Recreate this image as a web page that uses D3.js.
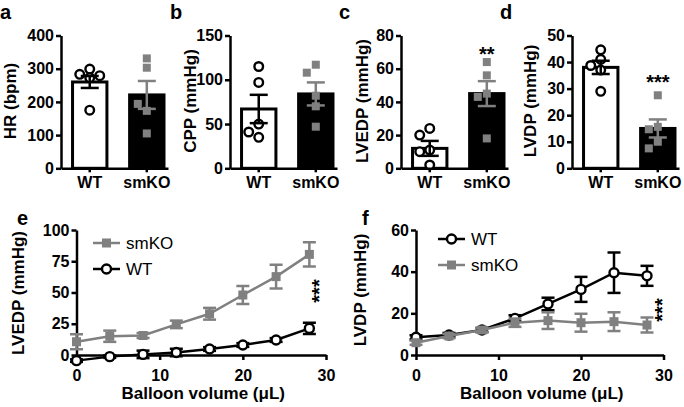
<!DOCTYPE html>
<html>
<head>
<meta charset="utf-8">
<script src="https://cdn.jsdelivr.net/npm/d3@7"></script>
<style>
  body { margin: 0; background: #fff; }
  svg { display: block; font-family: "Liberation Sans", Arial, sans-serif; }
</style>
</head>
<body>
<div id="chart"></div>
<script>
// ---- data ----
const groups = ["WT", "smKO"];

// a: heart rate
const hrWT = [299, 283, 279, 273, 175];
const hrKO = [331, 303, 173, 194, 105];
const hrMean = [260, 221], hrSem = [18, 42];

// b: coronary perfusion pressure
const cppWT = [115, 97, 50, 41, 35];
const cppKO = [117, 108, 82, 70, 47];
const cppMean = [67, 84], cppSem = [16, 13];

// c: LVEDP
const lvedpWT = [24, 20, 11, 10, 2];
const lvedpKO = [64, 56, 45, 43, 18];
const lvedpMean = [12, 45], lvedpSem = [4.5, 7.5];

// d: LVDP
const lvdpWT = [44.6, 41, 38.7, 37, 29];
const lvdpKO = [27.5, 15.6, 14.7, 10, 7.5];
const lvdpMean = [38, 15], lvdpSem = [2.5, 3.4];

// e / f: balloon volume curves
const volume = [0, 4, 8, 12, 16, 20, 24, 28];
const eKOMean = [10.6, 15, 15.6, 24.5, 33, 48, 62.7, 80.5];
const eKOSem  = [6, 4.5, 2, 3, 4.7, 7.2, 9.5, 9.7];
const eWTMean = [-4.5, -1.3, 0.5, 2, 4.8, 8, 12, 21.3];
const eWTSem  = [1, 1, 3, 3, 1.5, 1.5, 1.5, 4.5];
const fWTMean = [8.5, 9.6, 12, 17.6, 24.5, 31.5, 39.5, 38];
const fWTSem  = [1, 1, 1, 1.5, 3, 6, 9.7, 4.8];
const fKOMean = [5.9, 9.1, 12, 15.5, 16.5, 15.5, 16, 14.4];
const fKOSem  = [1, 1, 1, 2, 4, 4.3, 4.5, 3.6];

const GREY = "#808080";
const width = 684, height = 407;

const svg = d3.select("#chart").append("svg")
  .attr("width", width).attr("height", height);

function styleAxis(sel, size) {
  sel.selectAll("path, line").attr("stroke", "#000").attr("stroke-width", 2.5);
  sel.selectAll("text").attr("fill", "#000").attr("font-size", size)
    .attr("font-weight", "bold").attr("font-family", "Liberation Sans, Arial, sans-serif");
}

function letter(t, x, y) {
  svg.append("text").attr("x", x).attr("y", y).text(t)
    .attr("font-size", 20).attr("font-weight", "bold");
}

function stars(t, cx, cy, rotate) {
  svg.append("text")
    .attr("transform", `translate(${cx},${cy})` + (rotate ? " rotate(-90)" : ""))
    .attr("text-anchor", "middle").attr("dy", "0.57em")
    .attr("font-size", 20).attr("font-weight", "bold").text(t);
}

// simple beeswarm so overlapping dots spread sideways
function swarm(vals, y, step, minDist) {
  const placed = [];
  return vals.map(v => {
    const py = y(v);
    const tries = [0, -step, step, -2 * step, 2 * step];
    let off = 0;
    for (const t of tries) {
      if (placed.every(p => Math.hypot(p[0] - t, p[1] - py) >= minDist)) { off = t; break; }
    }
    placed.push([off, py]);
    return off;
  });
}

// ==== Bar panels a-d ====
function barPanel(p) {
  const g = svg.append("g");
  const y = d3.scaleLinear().domain([0, p.max]).range([168.3, 35.5]);
  const x = d3.scaleBand().domain(groups)
    .range([p.ax, p.ax + 107])
    .paddingInner(0.345).paddingOuter(0.11).align(0.8);

  g.selectAll("rect").data(groups).join("rect")
    .attr("x", d => x(d) + 1.5)
    .attr("width", x.bandwidth() - 3)
    .attr("y", (d, i) => y(p.mean[i]))
    .attr("height", (d, i) => y(0) - y(p.mean[i]))
    .attr("fill", (d, i) => i ? "#000" : "#fff")
    .attr("stroke", "#000").attr("stroke-width", 3);

  // WT circles
  const cx0 = x("WT") + x.bandwidth() / 2;
  const offW = swarm(p.wt, y, 10, 8);
  g.selectAll(".wt").data(p.wt).join("circle")
    .attr("cx", (d, i) => cx0 + offW[i]).attr("cy", d => y(d)).attr("r", 4.3)
    .attr("fill", "#fff").attr("stroke", "#000").attr("stroke-width", 2.4);

  // smKO squares
  const cx1 = x("smKO") + x.bandwidth() / 2;
  const offK = swarm(p.ko, y, 9, 8);
  g.selectAll(".ko").data(p.ko).join("rect")
    .attr("x", (d, i) => cx1 + offK[i] - 4).attr("y", d => y(d) - 4)
    .attr("width", 8).attr("height", 8).attr("fill", GREY);

  // error bars
  groups.forEach((gr, i) => {
    const cx = x(gr) + x.bandwidth() / 2;
    const col = i ? GREY : "#000";
    const hi = y(p.mean[i] + p.sem[i]), lo = y(p.mean[i] - p.sem[i]);
    g.append("line").attr("x1", cx).attr("x2", cx).attr("y1", hi).attr("y2", lo)
      .attr("stroke", col).attr("stroke-width", 2.5);
    [hi, lo].forEach(v => g.append("line")
      .attr("x1", cx - 9).attr("x2", cx + 9).attr("y1", v).attr("y2", v)
      .attr("stroke", col).attr("stroke-width", 2.5));
  });

  g.append("g").attr("transform", `translate(${p.ax},0)`)
    .call(d3.axisLeft(y).tickValues(p.ticks).tickSize(5).tickPadding(2).tickSizeOuter(0))
    .call(s => styleAxis(s, 16));

  g.append("g").attr("transform", `translate(0,${y(0)})`)
    .call(d3.axisBottom(x).tickSize(4).tickPadding(4).tickSizeOuter(0))
    .call(s => styleAxis(s, 16));

  g.append("text")
    .attr("transform", `translate(${p.lx},101) rotate(-90)`)
    .attr("text-anchor", "middle")
    .attr("font-size", 17).attr("font-weight", "bold").text(p.label);

  letter(p.letter, p.letterX, 19);
  if (p.stars) stars(p.stars, cx1, p.starY, false);
}

barPanel({ letter: "a", letterX: 0, ax: 61, lx: 16, label: "HR (bpm)", max: 400,
  ticks: [0, 100, 200, 300, 400], wt: hrWT, ko: hrKO, mean: hrMean, sem: hrSem });
barPanel({ letter: "b", letterX: 170, ax: 230, lx: 196, label: "CPP (mmHg)", max: 150,
  ticks: [0, 50, 100, 150], wt: cppWT, ko: cppKO, mean: cppMean, sem: cppSem });
barPanel({ letter: "c", letterX: 339, ax: 401, lx: 368, label: "LVEDP (mmHg)", max: 80,
  ticks: [0, 20, 40, 60, 80], wt: lvedpWT, ko: lvedpKO, mean: lvedpMean, sem: lvedpSem,
  stars: "**", starY: 50 });
barPanel({ letter: "d", letterX: 500, ax: 572, lx: 536, label: "LVDP (mmHg)", max: 50,
  ticks: [0, 10, 20, 30, 40, 50], wt: lvdpWT, ko: lvdpKO, mean: lvdpMean, sem: lvdpSem,
  stars: "***", starY: 78 });

// ==== Line panels e-f ====
function linePanel(p) {
  const g = svg.append("g");
  const x = d3.scaleLinear().domain([0, 30]).range(p.xr);
  const y = d3.scaleLinear().domain([0, p.max]).range([355, 230]);

  g.append("g").attr("transform", `translate(0,${y(0)})`)
    .call(d3.axisBottom(x).tickValues([0, 10, 20, 30]).tickSize(5).tickPadding(10).tickSizeOuter(0))
    .call(s => styleAxis(s, 16));
  g.append("g").attr("transform", `translate(${x(0)},0)`)
    .call(d3.axisLeft(y).tickValues(p.ticks).tickSize(5).tickPadding(2).tickSizeOuter(0))
    .call(s => styleAxis(s, 16));

  const line = d3.line().x((d, i) => x(volume[i])).y(d => y(d));

  p.series.forEach(s => {
    const col = s.wt ? "#000" : GREY;
    g.append("path").datum(s.mean).attr("d", line)
      .attr("fill", "none").attr("stroke", col).attr("stroke-width", 2.5);
    s.mean.forEach((m, i) => {
      const cx = x(volume[i]);
      const hi = y(m + s.sem[i]), lo = y(m - s.sem[i]);
      g.append("line").attr("x1", cx).attr("x2", cx).attr("y1", hi).attr("y2", lo)
        .attr("stroke", col).attr("stroke-width", 2.5);
      [hi, lo].forEach(v => g.append("line")
        .attr("x1", cx - 6.5).attr("x2", cx + 6.5).attr("y1", v).attr("y2", v)
        .attr("stroke", col).attr("stroke-width", 2.5));
    });
    if (s.wt) {
      g.selectAll(null).data(s.mean).join("circle")
        .attr("cx", (d, i) => x(volume[i])).attr("cy", d => y(d)).attr("r", 4.5)
        .attr("fill", "#fff").attr("stroke", "#000").attr("stroke-width", 2.4);
    } else {
      g.selectAll(null).data(s.mean).join("rect")
        .attr("x", (d, i) => x(volume[i]) - 4.5).attr("y", d => y(d) - 4.5)
        .attr("width", 9).attr("height", 9).attr("fill", GREY);
    }
  });

  // legend
  p.legend.forEach((s, i) => {
    const ly = p.legY + i * 26;
    const col = s.wt ? "#000" : GREY;
    g.append("line").attr("x1", p.legX).attr("x2", p.legX + 27).attr("y1", ly).attr("y2", ly)
      .attr("stroke", col).attr("stroke-width", 2.5);
    if (s.wt) {
      g.append("circle").attr("cx", p.legX + 13.5).attr("cy", ly).attr("r", 4.5)
        .attr("fill", "#fff").attr("stroke", "#000").attr("stroke-width", 2.4);
    } else {
      g.append("rect").attr("x", p.legX + 9).attr("y", ly - 4.5)
        .attr("width", 9).attr("height", 9).attr("fill", GREY);
    }
    g.append("text").attr("x", p.legX + 33).attr("y", ly).attr("dy", "0.36em")
      .attr("font-size", 17).text(s.name);
  });

  g.append("text")
    .attr("x", (p.xr[0] + p.xr[1]) / 2 + 2).attr("y", 399)
    .attr("text-anchor", "middle")
    .attr("font-size", 17).attr("font-weight", "bold").text("Balloon volume (\u03BCL)");
  g.append("text")
    .attr("transform", `translate(${p.lx},${p.ly}) rotate(-90)`)
    .attr("text-anchor", "middle")
    .attr("font-size", 17).attr("font-weight", "bold").text(p.label);

  letter(p.letter, p.letterX, 225);
  stars("***", p.starX, p.starY, true);
}

const eKO = { name: "smKO", wt: false, mean: eKOMean, sem: eKOSem };
const eWT = { name: "WT", wt: true, mean: eWTMean, sem: eWTSem };
const fWT = { name: "WT", wt: true, mean: fWTMean, sem: fWTSem };
const fKO = { name: "smKO", wt: false, mean: fKOMean, sem: fKOSem };

linePanel({ letter: "e", letterX: 17, xr: [76.5, 326], max: 100, ticks: [0, 25, 50, 75, 100],
  series: [eKO, eWT], legend: [eKO, eWT], legX: 93, legY: 243,
  label: "LVEDP (mmHg)", lx: 24, ly: 293, starX: 315, starY: 291 });
linePanel({ letter: "f", letterX: 362, xr: [416, 663.5], max: 60, ticks: [0, 20, 40, 60],
  series: [fWT, fKO], legend: [fWT, fKO], legX: 438, legY: 239,
  label: "LVDP (mmHg)", lx: 366, ly: 290, starX: 658, starY: 310 });
</script>
</body>
</html>
